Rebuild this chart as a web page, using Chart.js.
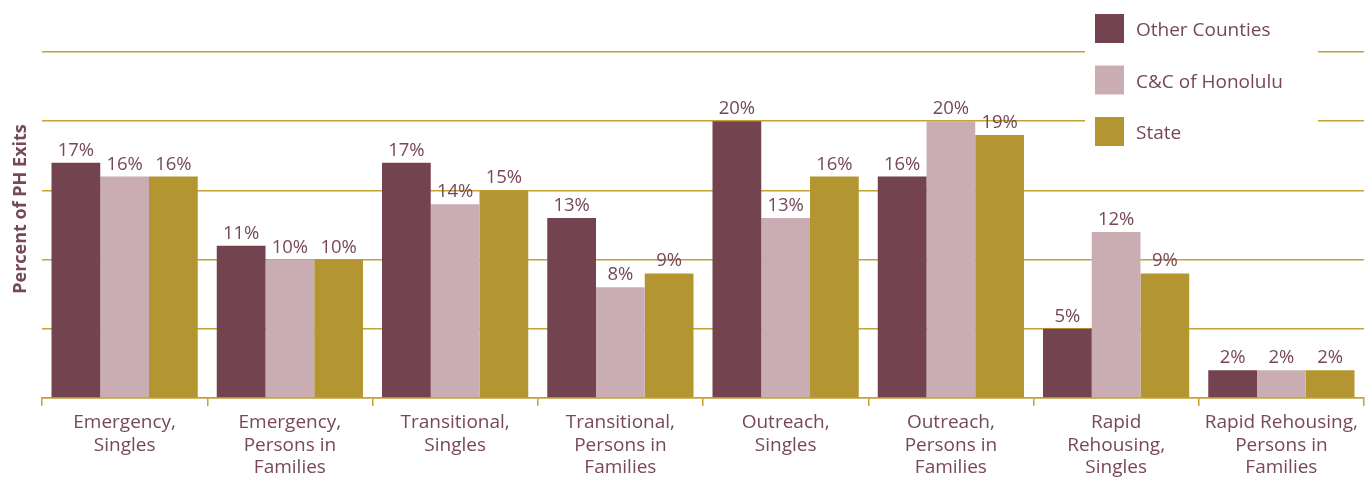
<!DOCTYPE html>
<html>
<head>
<meta charset="utf-8">
<script src="https://cdn.jsdelivr.net/npm/chart.js@4"></script>
<style>
  body { margin: 0; background: #fff; }
  #wrap { width: 1369px; height: 479px; position: relative; }
</style>
</head>
<body>
<div id="wrap"><canvas id="phChart"></canvas></div>
<script>
const categories = [
  ['Emergency,', 'Singles'],
  ['Emergency,', 'Persons in', 'Families'],
  ['Transitional,', 'Singles'],
  ['Transitional,', 'Persons in', 'Families'],
  ['Outreach,', 'Singles'],
  ['Outreach,', 'Persons in', 'Families'],
  ['Rapid', 'Rehousing,', 'Singles'],
  ['Rapid Rehousing,', 'Persons in', 'Families'],
]
const otherCounties = [17, 11, 17, 13, 20, 16, 5, 2]
const honolulu = [16, 10, 14, 8, 13, 20, 12, 2]
const state = [16, 10, 15, 9, 16, 19, 9, 2]
const yTitle = 'Percent of PH Exits'

const COLORS = {
  maroon: 'rgb(116, 67, 80)',
  pink: 'rgb(202, 173, 179)',
  gold: 'rgb(179, 150, 49)',
  grid: 'rgb(196, 162, 52)',
  text: 'rgb(118, 72, 90)',
}
const FONT = '"Open Sans", sans-serif'

// value labels above each bar
const barLabels = {
  id: 'barLabels',
  afterDatasetsDraw(chart) {
    const ctx = chart.ctx
    ctx.save()
    ctx.font = '18.5px ' + FONT
    ctx.fillStyle = COLORS.text
    ctx.textAlign = 'center'
    ctx.textBaseline = 'bottom'
    chart.data.datasets.forEach((ds, i) => {
      chart.getDatasetMeta(i).data.forEach((bar, j) => {
        ctx.fillText(ds.data[j] + '%', bar.x, bar.y - 3)
      })
    })
    ctx.restore()
  },
}

// legend box in the top right (drawn over the grid) + rotated y title
const boxLegend = {
  id: 'boxLegend',
  afterDraw(chart) {
    const ctx = chart.ctx
    ctx.save()
    ctx.fillStyle = '#fff'
    ctx.fillRect(1085, 0, 233, 152)
    ctx.font = '19px ' + FONT
    ctx.textBaseline = 'middle'
    chart.data.datasets.forEach((ds, i) => {
      const y = 14 + i * 51.5
      ctx.fillStyle = ds.backgroundColor
      ctx.fillRect(1095, y, 29, 29)
      ctx.fillStyle = COLORS.text
      ctx.fillText(ds.label, 1136, y + 17)
    })

    ctx.translate(21, 209)
    ctx.rotate(-Math.PI / 2)
    ctx.font = 'bold 18px ' + FONT
    ctx.textAlign = 'center'
    ctx.fillStyle = COLORS.text
    ctx.fillText(yTitle, 0, 0)
    ctx.restore()
  },
}

new Chart(document.getElementById('phChart').getContext('2d'), {
  type: 'bar',
  data: {
    labels: categories,
    datasets: [
      { label: 'Other Counties', data: otherCounties, backgroundColor: COLORS.maroon },
      { label: 'C&C of Honolulu', data: honolulu, backgroundColor: COLORS.pink },
      { label: 'State', data: state, backgroundColor: COLORS.gold },
    ],
  },
  options: {
    responsive: true,
    maintainAspectRatio: false,
    animation: false,
    layout: { padding: { top: 52, right: 5, left: 0, bottom: 0 } },
    plugins: {
      legend: { display: false },
      tooltip: { enabled: false },
    },
    datasets: {
      bar: { categoryPercentage: 0.885, barPercentage: 1.0 },
    },
    scales: {
      x: {
        afterFit: (scale) => { scale.height = 81 },
        border: { display: true, color: COLORS.grid, width: 1.5 },
        grid: {
          offset: true,
          drawOnChartArea: false,
          color: COLORS.grid,
          lineWidth: 1.5,
          tickLength: 8,
        },
        ticks: {
          color: COLORS.text,
          font: { family: FONT, size: 19, lineHeight: 1.2 },
          padding: 5,
          maxRotation: 0,
          autoSkip: false,
        },
      },
      y: {
        min: 0,
        max: 25,
        afterFit: (scale) => { scale.width = 42 },
        border: { display: false },
        grid: { color: COLORS.grid, lineWidth: 1.5, drawTicks: false },
        ticks: { display: false, stepSize: 5 },
      },
    },
  },
  plugins: [barLabels, boxLegend],
})
</script>
</body>
</html>
